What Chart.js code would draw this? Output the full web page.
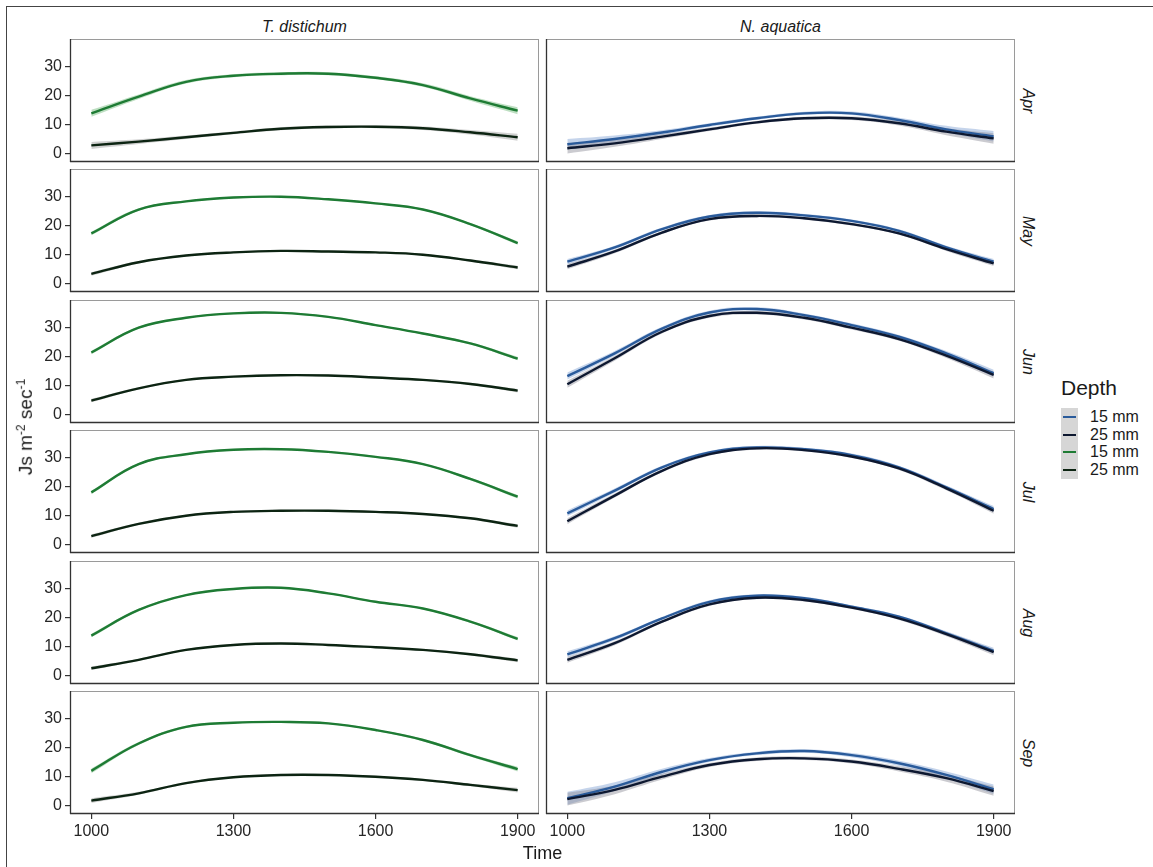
<!DOCTYPE html>
<html>
<head>
<meta charset="utf-8">
<script src="https://cdn.jsdelivr.net/npm/chart.js@4.4.1/dist/chart.umd.min.js"></script>
<style>
    body {
        margin: 0;
        width: 1153px;
        height: 867px;
        overflow: hidden;
        background: #fff;
        position: relative;
        font-family: "Liberation Sans", Arial, sans-serif;
        color: #1a1a1a;
    }
    .frame {
        position: absolute;
        left: 6px;
        top: 6px;
        width: 1300px;
        height: 1000px;
        border-left: 1px solid #444;
        border-top: 1px solid #444;
    }
    canvas { position: absolute; }
    .txt { position: absolute; white-space: nowrap; line-height: 1; }
</style>
</head>
<body>
<div class="frame"></div>
<script>
// facets and axes
var months = ['Apr', 'May', 'Jun', 'Jul', 'Aug', 'Sep'];
var species = ['T. distichum', 'N. aquatica'];
var depths = ['15 mm', '25 mm'];
var times = [1000, 1100, 1200, 1300, 1400, 1500, 1600, 1700, 1800, 1900];
var xTicks = [1000, 1300, 1600, 1900];
var yTicks = [0, 10, 20, 30];

// T. distichum, one row per month
var td15 = [
    [13.9, 19.6, 24.7, 26.8, 27.5, 27.5, 26.1, 23.6, 19.0, 14.8],
    [17.3, 25.5, 28.3, 29.6, 29.9, 29.0, 27.6, 25.5, 20.5, 14.0],
    [21.4, 29.9, 33.3, 34.8, 35.0, 33.6, 30.8, 27.9, 24.5, 19.3],
    [18.0, 27.7, 31.1, 32.6, 32.8, 31.9, 30.2, 27.7, 22.6, 16.5],
    [13.8, 22.6, 27.7, 29.8, 30.2, 28.3, 25.4, 23.1, 18.6, 12.7],
    [12.0, 21.4, 27.1, 28.5, 28.8, 28.3, 26.0, 22.6, 17.4, 12.6]
];
var td25 = [
    [2.9, 4.2, 5.7, 7.2, 8.6, 9.2, 9.3, 8.8, 7.4, 5.7],
    [3.4, 7.4, 9.7, 10.8, 11.3, 11.1, 10.8, 10.0, 8.0, 5.6],
    [4.9, 9.1, 12.0, 13.1, 13.6, 13.5, 12.8, 12.0, 10.6, 8.3],
    [3.0, 7.2, 10.0, 11.3, 11.7, 11.7, 11.3, 10.6, 9.1, 6.5],
    [2.6, 5.5, 8.9, 10.6, 11.1, 10.6, 9.8, 8.9, 7.4, 5.3],
    [1.8, 4.3, 7.8, 9.8, 10.6, 10.6, 10.0, 8.9, 7.2, 5.4]
];
// N. aquatica
var na15 = [
    [3.3, 5.1, 7.3, 9.9, 12.2, 13.9, 13.9, 11.6, 8.4, 6.0],
    [7.6, 12.5, 18.8, 23.1, 24.4, 23.5, 21.6, 18.2, 12.5, 7.6],
    [13.3, 21.1, 29.6, 35.1, 36.3, 34.2, 30.8, 26.8, 21.1, 14.3],
    [10.8, 18.6, 26.6, 31.7, 33.4, 32.8, 30.8, 26.6, 19.7, 12.3],
    [7.4, 12.9, 19.7, 25.4, 27.5, 26.6, 23.7, 20.3, 14.6, 8.6],
    [2.6, 6.6, 11.7, 15.7, 18.0, 18.8, 17.4, 14.6, 10.6, 5.7]
];
var na25 = [
    [1.9, 3.6, 5.9, 8.4, 10.8, 12.2, 12.2, 10.5, 7.6, 5.3],
    [5.9, 11.1, 17.6, 22.2, 23.3, 22.5, 20.5, 17.3, 11.9, 7.0],
    [10.5, 19.4, 28.5, 33.9, 35.0, 33.3, 29.9, 26.0, 20.3, 13.7],
    [8.1, 16.9, 25.4, 31.1, 33.1, 32.5, 30.3, 26.2, 19.4, 11.7],
    [5.5, 11.2, 18.6, 24.5, 26.8, 26.0, 23.4, 19.7, 14.3, 8.1],
    [2.3, 5.5, 10.0, 14.0, 16.0, 16.3, 15.2, 12.7, 9.5, 5.1]
];
// half width of the confidence band
var tdBand = [
    [1.2, 0.8, 0.6, 0.5, 0.5, 0.5, 0.5, 0.6, 0.8, 1.2],
    [0.6, 0.4, 0.3, 0.3, 0.3, 0.3, 0.3, 0.3, 0.4, 0.6],
    [0.6, 0.4, 0.3, 0.3, 0.3, 0.3, 0.3, 0.3, 0.4, 0.6],
    [0.6, 0.4, 0.3, 0.3, 0.3, 0.3, 0.3, 0.3, 0.4, 0.6],
    [0.6, 0.4, 0.3, 0.3, 0.3, 0.3, 0.3, 0.3, 0.4, 0.6],
    [0.8, 0.5, 0.4, 0.3, 0.3, 0.3, 0.3, 0.4, 0.5, 0.8]
];
var naBand = [
    [1.8, 1.2, 0.8, 0.6, 0.5, 0.5, 0.6, 0.8, 1.2, 1.8],
    [0.9, 0.6, 0.5, 0.5, 0.5, 0.5, 0.5, 0.5, 0.6, 0.9],
    [1.2, 0.8, 0.6, 0.6, 0.6, 0.6, 0.6, 0.6, 0.8, 1.2],
    [1.0, 0.7, 0.5, 0.5, 0.5, 0.5, 0.5, 0.5, 0.7, 1.0],
    [1.0, 0.7, 0.5, 0.5, 0.5, 0.5, 0.5, 0.5, 0.7, 1.0],
    [2.2, 1.5, 1.0, 0.7, 0.6, 0.6, 0.7, 0.9, 1.2, 1.6]
];

// colours: [15 mm, 25 mm] per species
var lineColors = [['#1e7b34', '#0c2412'], ['#2a5b9b', '#0d1830']];
var bandColors = [['rgba(110,185,120,0.45)', 'rgba(140,140,140,0.4)'],
                  ['rgba(140,170,215,0.5)', 'rgba(140,140,150,0.45)']];

// layout of the facet grid
var panelLeft = [70, 546];
var panelW = 469;
var panelH = 123;
var rowPitch = 130.4;
var firstTop = 39;
var fontFamily = '"Liberation Sans", Arial, sans-serif';

function panelTop(row) {
    return Math.round(firstTop + rowPitch * row);
}

function points(vals, half, sign) {
    return times.map(function (t, i) {
        var off = half ? sign * half[i] : 0;
        return { x: t, y: vals[i] + off };
    });
}

var panelBorder = {
    id: 'panelBorder',
    afterDraw: function (chart) {
        var a = chart.chartArea;
        var ctx = chart.ctx;
        ctx.save();
        ctx.lineWidth = 1;
        ctx.strokeStyle = '#9a9a9a';
        ctx.beginPath();
        ctx.moveTo(a.left, a.top + 0.5);
        ctx.lineTo(a.right, a.top + 0.5);
        ctx.moveTo(a.right - 0.5, a.top);
        ctx.lineTo(a.right - 0.5, a.bottom);
        ctx.stroke();
        ctx.strokeStyle = '#333';
        ctx.lineWidth = 1.3;
        ctx.beginPath();
        ctx.moveTo(a.left + 0.5, a.top);
        ctx.lineTo(a.left + 0.5, a.bottom);
        ctx.moveTo(a.left, a.bottom - 0.5);
        ctx.lineTo(a.right, a.bottom - 0.5);
        ctx.stroke();
        ctx.restore();
    }
};

function makePanel(col, row) {
    var isLeft = col === 0;
    var isBottom = row === months.length - 1;
    var pad = 3, yw = 64, xh = 40;
    var v15 = col === 0 ? td15[row] : na15[row];
    var v25 = col === 0 ? td25[row] : na25[row];
    var hw = col === 0 ? tdBand[row] : naBand[row];

    var canvas = document.createElement('canvas');
    var w = panelW + 2 * pad + (isLeft ? yw : 0);
    var h = panelH + 2 * pad + (isBottom ? xh : 0);
    canvas.width = w;
    canvas.height = h;
    canvas.style.left = (panelLeft[col] - pad - (isLeft ? yw : 0)) + 'px';
    canvas.style.top = (panelTop(row) - pad) + 'px';
    canvas.style.width = w + 'px';
    canvas.style.height = h + 'px';
    document.body.appendChild(canvas);

    var bandBase = { pointRadius: 0, borderWidth: 0, borderColor: 'transparent', tension: 0.4 };
    var datasets = [
        Object.assign({ data: points(v15, hw, 1), fill: '+1', backgroundColor: bandColors[col][0], order: 3 }, bandBase),
        Object.assign({ data: points(v15, hw, -1), fill: false, order: 3 }, bandBase),
        Object.assign({ data: points(v25, hw, 1), fill: '+1', backgroundColor: bandColors[col][1], order: 2 }, bandBase),
        Object.assign({ data: points(v25, hw, -1), fill: false, order: 2 }, bandBase),
        { label: depths[0], data: points(v15), borderColor: lineColors[col][0], borderWidth: 2.4,
          pointRadius: 0, fill: false, tension: 0.4, order: 1 },
        { label: depths[1], data: points(v25), borderColor: lineColors[col][1], borderWidth: 2.4,
          pointRadius: 0, fill: false, tension: 0.4, order: 0 }
    ];

    new Chart(canvas, {
        type: 'line',
        data: { datasets: datasets },
        options: {
            responsive: false,
            animation: false,
            layout: { padding: pad },
            plugins: { legend: { display: false }, tooltip: { enabled: false } },
            scales: {
                x: {
                    type: 'linear',
                    min: 955,
                    max: 1945,
                    display: isBottom,
                    afterBuildTicks: function (s) { s.ticks = xTicks.map(function (v) { return { value: v }; }); },
                    afterFit: function (s) {
                        s.height = isBottom ? xh : 0;
                        s.paddingLeft = 0;
                        s.paddingRight = 0;
                    },
                    ticks: { font: { size: 16, family: fontFamily }, color: '#262626', padding: 3,
                             maxRotation: 0, autoSkip: false,
                             callback: function (v) { return String(v); } },
                    grid: { drawOnChartArea: false, tickLength: 5, color: '#333', lineWidth: 1.2 },
                    border: { display: false }
                },
                y: {
                    min: -2.8,
                    max: 39.4,
                    display: isLeft,
                    afterBuildTicks: function (s) { s.ticks = yTicks.map(function (v) { return { value: v }; }); },
                    afterFit: function (s) {
                        s.width = isLeft ? yw : 0;
                        s.paddingTop = 0;
                        s.paddingBottom = 0;
                    },
                    ticks: { font: { size: 16, family: fontFamily }, color: '#262626', padding: 3,
                             callback: function (v) { return String(v); } },
                    grid: { drawOnChartArea: false, tickLength: 5, color: '#333', lineWidth: 1.2 },
                    border: { display: false }
                }
            }
        },
        plugins: [panelBorder]
    });
}

function addText(html, x, y, size, extra) {
    var d = document.createElement('div');
    d.className = 'txt';
    d.innerHTML = html;
    d.style.fontSize = size + 'px';
    d.style.left = x + 'px';
    d.style.top = y + 'px';
    if (extra) {
        for (var k in extra) d.style[k] = extra[k];
    }
    document.body.appendChild(d);
    return d;
}

for (var c = 0; c < species.length; c++) {
    for (var r = 0; r < months.length; r++) {
        makePanel(c, r);
    }
    // column strip
    addText(species[c], panelLeft[c] + panelW / 2, 27, 16,
        { fontStyle: 'italic', transform: 'translate(-50%, -50%)' });
}

// row strips
months.forEach(function (m, r) {
    addText(m, 1028, panelTop(r) + panelH / 2, 16,
        { fontStyle: 'italic', transform: 'translate(-50%, -50%) rotate(90deg)' });
});

// axis titles
addText('Time', (panelLeft[0] + panelLeft[1] + panelW) / 2, 853, 18,
    { transform: 'translate(-50%, -50%)' });
addText('Js m<sup style="font-size:12px">-2</sup> sec<sup style="font-size:12px">-1</sup>', 25,
    (firstTop + panelTop(months.length - 1) + panelH) / 2, 19,
    { transform: 'translate(-50%, -50%) rotate(-90deg)' });

// legend: N. aquatica keys first, as in the figure
addText('Depth', 1061, 377, 21);
var keyTop = 408, keyH = 17.75;
var keyBox = document.createElement('div');
keyBox.style.cssText = 'position:absolute;left:1061px;top:' + keyTop + 'px;width:17px;height:' +
    (keyH * 4) + 'px;background:#d6d6d6;';
document.body.appendChild(keyBox);
var legendItems = [];
[1, 0].forEach(function (si) {
    depths.forEach(function (d, di) {
        legendItems.push({ label: d, color: lineColors[si][di] });
    });
});
legendItems.forEach(function (item, i) {
    var cy = keyTop + keyH * i + keyH / 2;
    var dash = document.createElement('div');
    dash.style.cssText = 'position:absolute;left:1063px;width:13px;height:2px;top:' + (cy - 1) +
        'px;background:' + item.color + ';';
    document.body.appendChild(dash);
    addText(item.label, 1090, cy, 16, { transform: 'translateY(-50%)' });
});
</script>
</body>
</html>
